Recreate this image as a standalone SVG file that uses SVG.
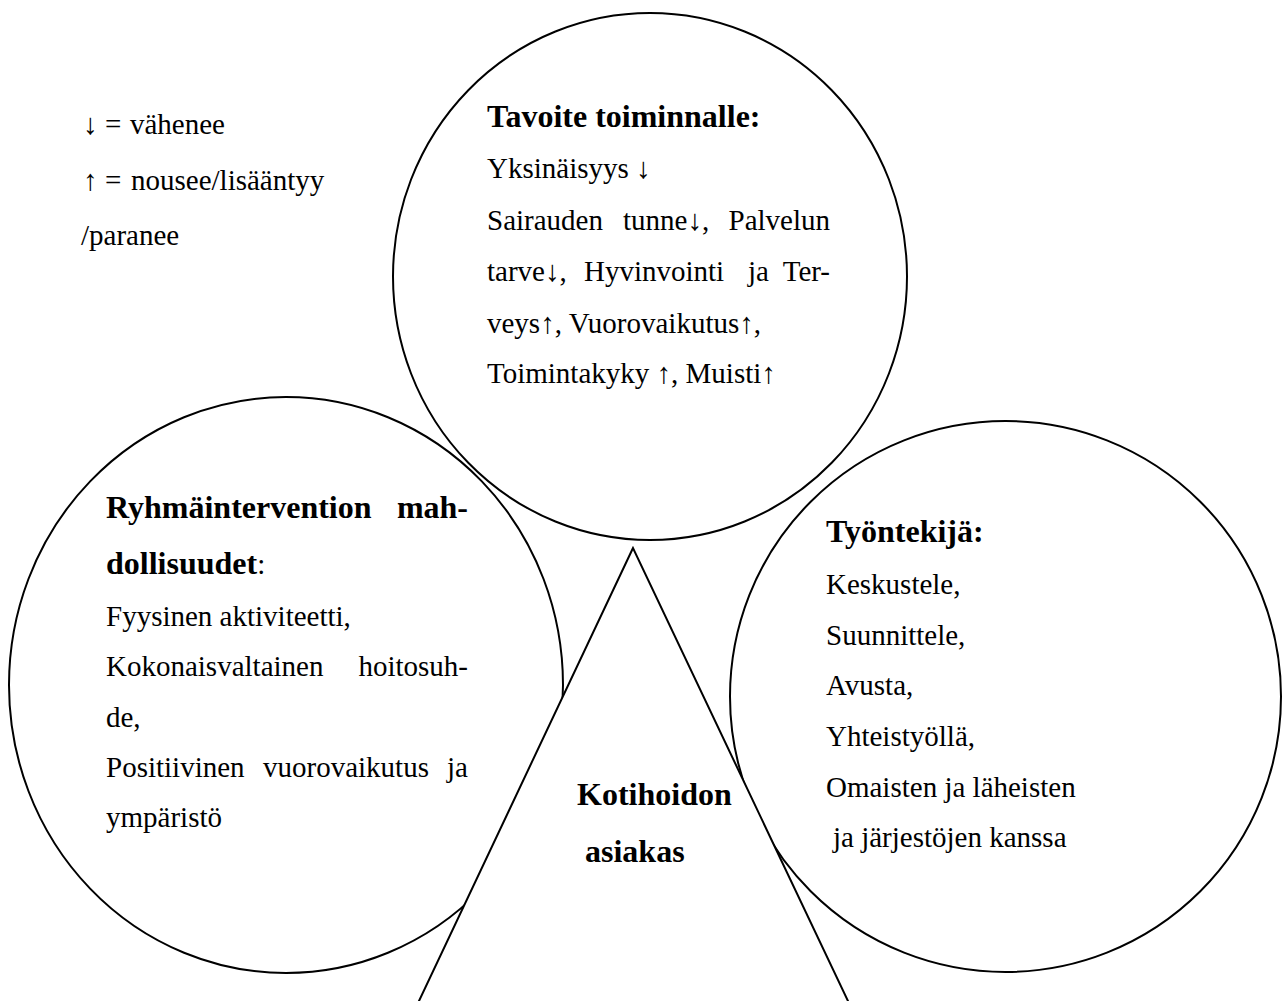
<svg xmlns="http://www.w3.org/2000/svg" width="1282" height="1001" viewBox="0 0 1282 1001">
<style>
.shape{fill:#fff;stroke:#000;stroke-width:2}
text{font-family:"Liberation Serif","Times New Roman",serif;fill:#000}
.r{font-size:29px}
.b{font-size:32px;font-weight:bold}
</style>
<rect width="1282" height="1001" fill="#fff"/>
<g id="legend">
<text class="r" y="134"><tspan x="83">↓</tspan><tspan x="105">=</tspan><tspan x="130">vähenee</tspan></text>
<text class="r" y="190"><tspan x="83">↑</tspan><tspan x="105">=</tspan><tspan x="131">nousee/lisääntyy</tspan></text>
<text class="r" x="81" y="245">/paranee</text>
</g>
<g id="node-tavoite">
<ellipse class="shape" cx="650" cy="276.5" rx="257" ry="263.5"/>
<text class="b" x="487" y="127">Tavoite toiminnalle:</text>
<text class="r" x="487" y="178">Yksinäisyys ↓</text>
<text class="r" y="230"><tspan x="487">Sairauden</tspan><tspan x="623">tunne↓,</tspan><tspan x="830" text-anchor="end">Palvelun</tspan></text>
<text class="r" y="281"><tspan x="487">tarve↓,</tspan><tspan x="584">Hyvinvointi</tspan><tspan x="748">ja</tspan><tspan x="830" text-anchor="end">Ter-</tspan></text>
<text class="r" x="487" y="333">veys↑, Vuorovaikutus↑,</text>
<text class="r" x="487" y="383">Toimintakyky ↑, Muisti↑</text>
</g>
<g id="node-ryhmaintervention">
<ellipse class="shape" cx="286" cy="685" rx="277" ry="288"/>
<text class="b" y="518"><tspan x="106">Ryhmäintervention</tspan><tspan x="468" text-anchor="end">mah-</tspan></text>
<text class="b" x="106" y="574">dollisuudet<tspan style="font-weight:normal;font-size:29px">:</tspan></text>
<text class="r" x="106" y="626">Fyysinen aktiviteetti,</text>
<text class="r" y="676"><tspan x="106">Kokonaisvaltainen</tspan><tspan x="468" text-anchor="end">hoitosuh-</tspan></text>
<text class="r" x="106" y="727">de,</text>
<text class="r" y="777"><tspan x="106">Positiivinen</tspan><tspan x="263">vuorovaikutus</tspan><tspan x="468" text-anchor="end">ja</tspan></text>
<text class="r" x="106" y="827">ympäristö</text>
</g>
<g id="node-tyontekija">
<ellipse class="shape" cx="1005.5" cy="696.5" rx="275.5" ry="275.5"/>
<text class="b" x="826" y="542">Työntekijä:</text>
<text class="r" x="826" y="594">Keskustele,</text>
<text class="r" x="826" y="645">Suunnittele,</text>
<text class="r" x="826" y="695">Avusta,</text>
<text class="r" x="826" y="746">Yhteistyöllä,</text>
<text class="r" x="826" y="797">Omaisten ja läheisten</text>
<text class="r" x="833" y="847">ja järjestöjen kanssa</text>
</g>
<g id="node-asiakas">
<polygon class="shape" points="633,548 410,1020 857,1020"/>
<text class="b" x="577" y="805">Kotihoidon</text>
<text class="b" x="585" y="862">asiakas</text>
</g>
<g id="connectors"/>
</svg>
